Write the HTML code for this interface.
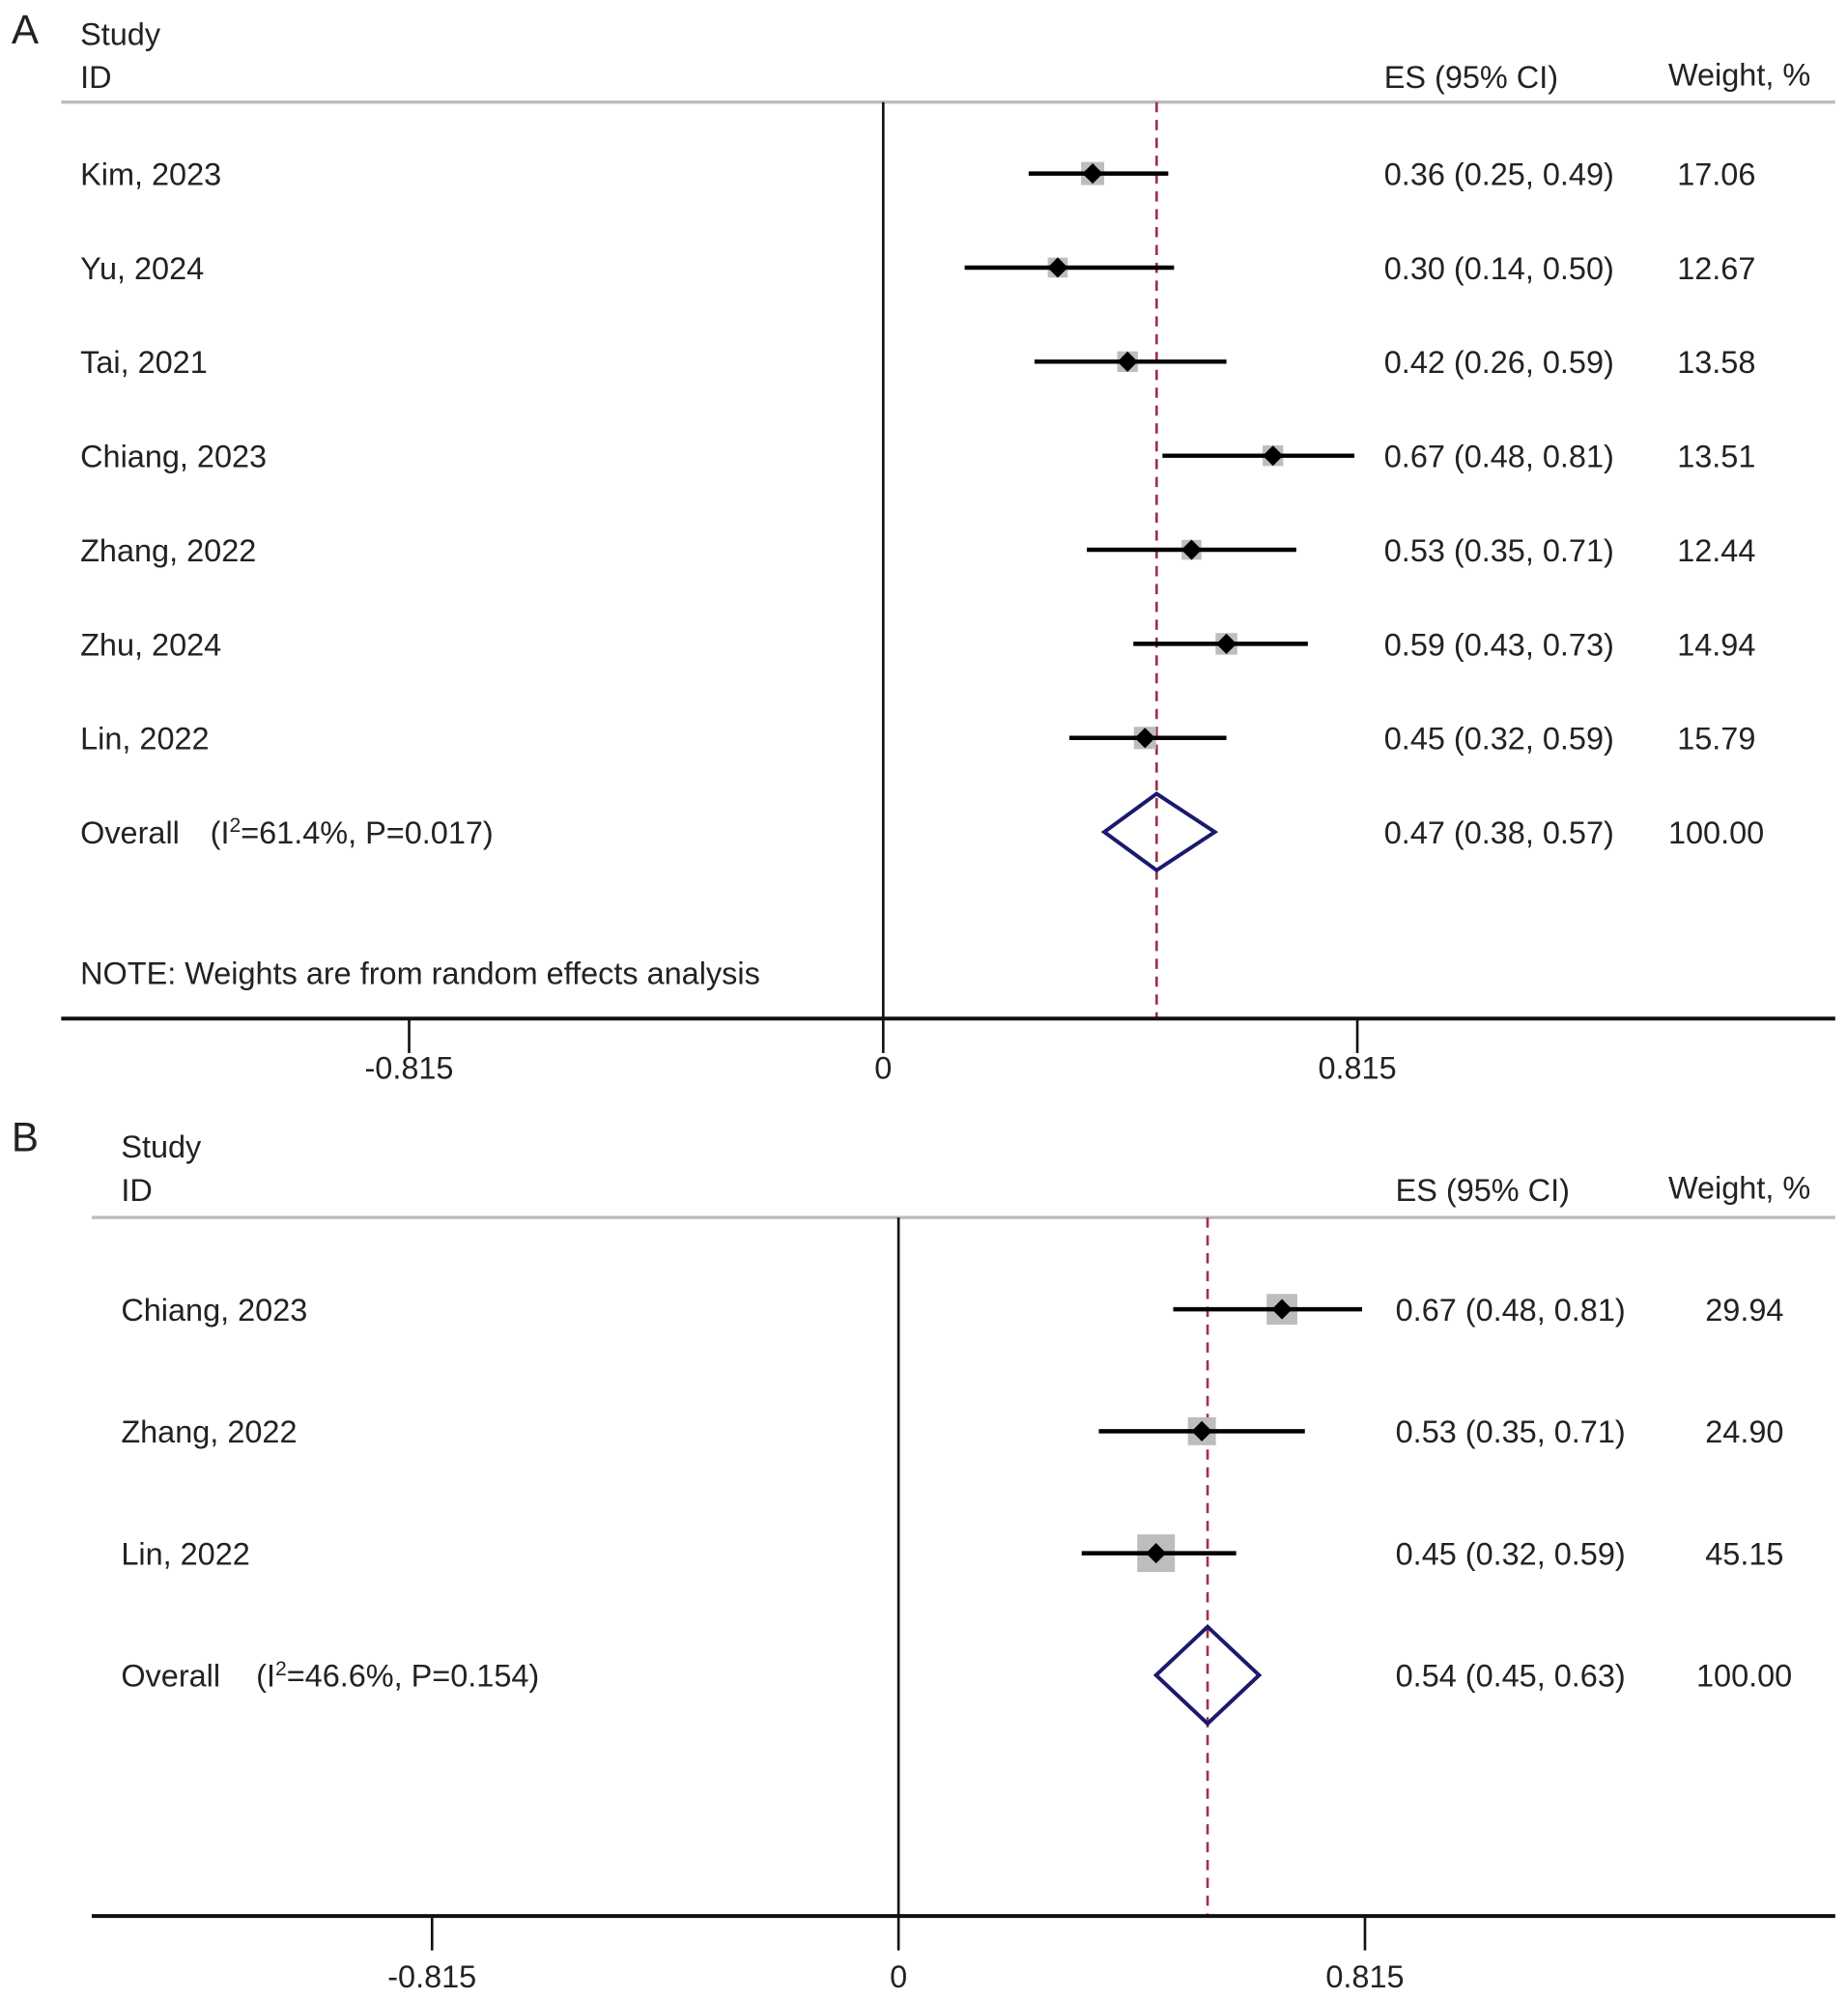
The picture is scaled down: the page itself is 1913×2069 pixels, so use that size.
<!DOCTYPE html>
<html><head><meta charset="utf-8"><style>
html,body{margin:0;padding:0;background:#fff}
svg{display:block}
text{font-family:"Liberation Sans",Arial,sans-serif;fill:#222}
</style></head><body>
<svg id="chart" width="1913" height="2069" viewBox="0 0 1450 1568" xmlns="http://www.w3.org/2000/svg"></svg>
<script>
// Panel A data
const studiesA = ["Kim, 2023","Yu, 2024","Tai, 2021","Chiang, 2023","Zhang, 2022","Zhu, 2024","Lin, 2022"];
const esA = [0.36,0.30,0.42,0.67,0.53,0.59,0.45];
const lowA = [0.25,0.14,0.26,0.48,0.35,0.43,0.32];
const highA = [0.49,0.50,0.59,0.81,0.71,0.73,0.59];
const weightA = ["17.06","12.67","13.58","13.51","12.44","14.94","15.79"];
const overallA = [0.47,0.38,0.57];
const overallLabelA = "61.4%, P=0.017";
// Panel B data
const studiesB = ["Chiang, 2023","Zhang, 2022","Lin, 2022"];
const esB = [0.67,0.53,0.45];
const lowB = [0.48,0.35,0.32];
const highB = [0.81,0.71,0.59];
const weightB = ["29.94","24.90","45.15"];
const overallB = [0.54,0.45,0.63];
const overallLabelB = "46.6%, P=0.154";
const ticks = [-0.815,0,0.815];
const tickLabels = ["-0.815","0","0.815"];

const FS = 24.6;
const svg = document.getElementById('chart');
const NS = 'http://www.w3.org/2000/svg';
function mk(tag, attrs, parent){
  const e = document.createElementNS(NS, tag);
  for (const k in attrs) e.setAttribute(k, attrs[k]);
  (parent||svg).appendChild(e);
  return e;
}
function txt(x,y,s,size,parent,anchor){
  const t = mk('text',{x:x,y:y,'font-size':size||FS,'text-anchor':anchor||'start'},parent);
  t.textContent = s; return t;
}

function panel(cfg){
  const g = mk('g',{});
  
  
  const X = v => cfg.x0 + v*cfg.k;
  let t = txt(9, cfg.letterY, cfg.letter, 32, g);
  
  
  t = txt(cfg.labelX, cfg.studyY, 'Study', FS, g);
  
  
  t = txt(cfg.labelX, cfg.studyY+34, 'ID', FS, g);
  
  
  t = txt(cfg.esX, cfg.studyY+34, 'ES (95% CI)', FS, g);
  
  
  t = txt(cfg.whX, cfg.studyY+32, 'Weight, %', FS, g);
  
  
  let l = mk('line',{x1:cfg.left,x2:1440,y1:cfg.headY,y2:cfg.headY,stroke:'#bbb','stroke-width':2.5},g);
  
  
  l = mk('line',{x1:X(0),x2:X(0),y1:cfg.headY,y2:cfg.axisY,stroke:'#111','stroke-width':2},g);
  
  
  l = mk('line',{x1:X(cfg.ov[0]),x2:X(cfg.ov[0]),y1:cfg.headY,y2:cfg.axisY,stroke:'#a0304a','stroke-width':2,'stroke-dasharray':'8,6'},g);
  
  
  l = mk('line',{x1:cfg.left,x2:1440,y1:cfg.axisY,y2:cfg.axisY,stroke:'#111','stroke-width':3},g);
  
  
  ticks.forEach((v,i)=>{
    const tk = mk('line',{x1:X(v),x2:X(v),y1:cfg.axisY,y2:cfg.axisY+27,stroke:'#111','stroke-width':2},g);
    
    
    const tl = txt(X(v), cfg.axisY+cfg.tickOff, tickLabels[i], FS, g, 'middle');
    
    
  });
  cfg.studies.forEach((s,i)=>{
    const y = cfg.rowY0 + i*cfg.rowH;
    const rg = mk('g',{},g);
    
    
    txt(cfg.labelX, y+9, s, FS, rg);
    const side = 4.4*Math.sqrt(parseFloat(cfg.w[i]));
    const sq = mk('rect',{x:X(cfg.es[i])-side/2,y:y-side/2,width:side,height:side,fill:'#bdbdbd'},rg);
    
    
    const ci = mk('line',{x1:X(cfg.lo[i]),x2:X(cfg.hi[i]),y1:y,y2:y,stroke:'#000','stroke-width':3.4},rg);
    
    
    const cx = X(cfg.es[i]), d=8;
    const pt = mk('polygon',{points:`${cx-d},${y} ${cx},${y-d} ${cx+d},${y} ${cx},${y+d}`,fill:'#000'},rg);
    
    
    txt(cfg.esX, y+9, `${cfg.es[i].toFixed(2)} (${cfg.lo[i].toFixed(2)}, ${cfg.hi[i].toFixed(2)})`, FS, rg);
    txt(cfg.wX, y+9, cfg.w[i], FS, rg);
  });
  const oy = cfg.rowY0 + cfg.studies.length*cfg.rowH;
  const og = mk('g',{},g);
  
  
  txt(cfg.labelX, oy+9, 'Overall', FS, og);
  const ot = mk('text',{x:cfg.labelX+cfg.ovParenDx,y:oy+9,'font-size':FS},og);
  ot.innerHTML = `(I<tspan dy="-9" font-size="16">2</tspan><tspan dy="9">=${cfg.ovLabel})</tspan>`;
  const a=X(cfg.ov[1]), b=X(cfg.ov[0]), c=X(cfg.ov[2]), h=cfg.dH;
  const dm = mk('polygon',{points:`${a},${oy} ${b},${oy-h} ${c},${oy} ${b},${oy+h}`,fill:'none',stroke:'#1a1a6e','stroke-width':3},og);
  
  
  txt(cfg.esX, oy+9, `${cfg.ov[0].toFixed(2)} (${cfg.ov[1].toFixed(2)}, ${cfg.ov[2].toFixed(2)})`, FS, og);
  txt(cfg.wX-7, oy+9, '100.00', FS, og);
  if (cfg.note){
    const nt = txt(cfg.labelX, 772, 'NOTE: Weights are from random effects analysis', FS, g);
    
    
  }
}

panel({name:'panel-a',letter:'A',letterY:34,studyY:35,labelX:63,esX:1086,wX:1316,whX:1309,left:48,headY:80,axisY:799,tickOff:47,
  x0:693,k:372/0.815,rowY0:136,rowH:73.8,dH:30,ovParenDx:102,studies:studiesA,es:esA,lo:lowA,hi:highA,w:weightA,
  ov:overallA,ovLabel:overallLabelA,note:true});
panel({name:'panel-b',letter:'B',letterY:903,studyY:908,labelX:95,esX:1095,wX:1338,whX:1309,left:72,headY:955,axisY:1503,tickOff:56,
  x0:705,k:366/0.815,rowY0:1027,rowH:95.7,dH:38,ovParenDx:106,studies:studiesB,es:esB,lo:lowB,hi:highB,w:weightB,
  ov:overallB,ovLabel:overallLabelB,note:false});
</script>
</body></html>
